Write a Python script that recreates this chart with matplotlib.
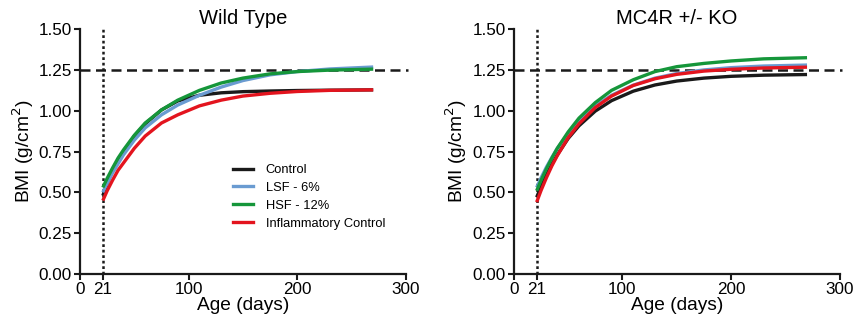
"""BMI growth curves: Wild Type vs MC4R +/- KO, four diet groups."""

import matplotlib.pyplot as plt
from matplotlib.lines import Line2D

plt.rcParams["font.family"] = ["Liberation Sans", "DejaVu Sans"]

BLACK = "#1a1a1a"
BLUE = "#6a9bd1"
GREEN = "#15963a"
RED = "#e3141e"

OUT = "out.png"

# --- data ---
days = [21, 25, 30, 35, 40, 50, 60, 75, 90, 110, 130, 150, 175, 200, 230, 270]

wt_control = [0.48, 0.555, 0.635, 0.70, 0.75, 0.845, 0.92, 1.005, 1.06, 1.095, 1.11, 1.117,
              1.121, 1.124, 1.126, 1.128]
wt_lsf = [0.50, 0.555, 0.62, 0.675, 0.73, 0.82, 0.895, 0.975, 1.035, 1.095, 1.145, 1.185,
          1.22, 1.24, 1.256, 1.268]
wt_hsf = [0.53, 0.586, 0.65, 0.71, 0.76, 0.85, 0.925, 1.005, 1.065, 1.125, 1.17, 1.20,
          1.226, 1.24, 1.249, 1.255]
wt_inflam = [0.45, 0.51, 0.575, 0.635, 0.68, 0.77, 0.845, 0.925, 0.975, 1.03, 1.065, 1.09,
             1.107, 1.118, 1.125, 1.128]

ko_control = [0.47, 0.534, 0.607, 0.672, 0.73, 0.83, 0.908, 0.998, 1.062, 1.12, 1.158,
              1.182, 1.20, 1.211, 1.218, 1.222]
ko_lsf = [0.53, 0.588, 0.655, 0.714, 0.77, 0.86, 0.94, 1.03, 1.095, 1.157, 1.20, 1.228,
          1.25, 1.264, 1.274, 1.28]
ko_hsf = [0.51, 0.573, 0.645, 0.71, 0.77, 0.87, 0.955, 1.05, 1.125, 1.19, 1.24, 1.27,
          1.29, 1.305, 1.318, 1.325]
ko_inflam = [0.44, 0.511, 0.59, 0.662, 0.725, 0.835, 0.92, 1.02, 1.09, 1.155, 1.196,
             1.223, 1.243, 1.254, 1.262, 1.267]

labels = ["Control", "LSF - 6%", "HSF - 12%", "Inflammatory Control"]
colors = [BLACK, BLUE, GREEN, RED]

wean_day = 21
ref_bmi = 1.25
x_ticks = [0, 21, 100, 200, 300]
y_ticks = [0.0, 0.25, 0.5, 0.75, 1.0, 1.25, 1.5]

panels = [
    ("Wild Type", [wt_control, wt_lsf, wt_hsf, wt_inflam]),
    ("MC4R +/- KO", [ko_control, ko_lsf, ko_hsf, ko_inflam]),
]

fig = plt.figure(figsize=(8.55, 3.3), dpi=100)
rects = [[0.0936, 0.1697, 0.381, 0.742], [0.601, 0.1697, 0.381, 0.742]]

axes = []
for rect, (title, series) in zip(rects, panels):
    ax = fig.add_axes(rect)
    axes.append(ax)

    # reference lines
    ax.plot([0, 302], [ref_bmi, ref_bmi], color=BLACK, lw=1.8, ls=(0, (4, 2.2)),
            clip_on=False, zorder=1)
    ax.plot([wean_day, wean_day], [0, 1.515], color=BLACK, lw=1.8, ls=(0, (1.1, 1.1)),
            clip_on=False, zorder=1)

    for vals, c in zip(series, colors):
        ax.plot(days, vals, color=c, lw=2.4, solid_capstyle="butt", zorder=3)

    ax.set_xlim(0, 300)
    ax.set_ylim(0, 1.5)
    ax.set_xticks(x_ticks)
    ax.set_yticks(y_ticks)
    ax.set_yticklabels([f"{v:.2f}" for v in y_ticks])
    ax.tick_params(labelsize=12.3, width=1.5, length=4, color=BLACK, pad=2)

    for s in ["top", "right"]:
        ax.spines[s].set_visible(False)
    for s in ["left", "bottom"]:
        ax.spines[s].set_linewidth(1.6)
        ax.spines[s].set_color(BLACK)

    ax.set_title(title, fontsize=14.5, pad=4)
    ax.set_xlabel("Age (days)", fontsize=13.8, labelpad=0)
    ax.set_ylabel("BMI (g/cm$^2$)", fontsize=13.8, labelpad=2)

handles = [Line2D([], [], color=c, lw=2.4) for c in colors]
axes[0].legend(handles, labels, loc="upper left", bbox_to_anchor=(0.455, 0.47),
               frameon=False, fontsize=9.3, handlelength=1.5, handletextpad=1.0,
               labelspacing=0.45, borderaxespad=0)

plt.savefig(OUT, dpi=100, facecolor="white")
plt.close()
print(f"Saved -> {OUT}")
